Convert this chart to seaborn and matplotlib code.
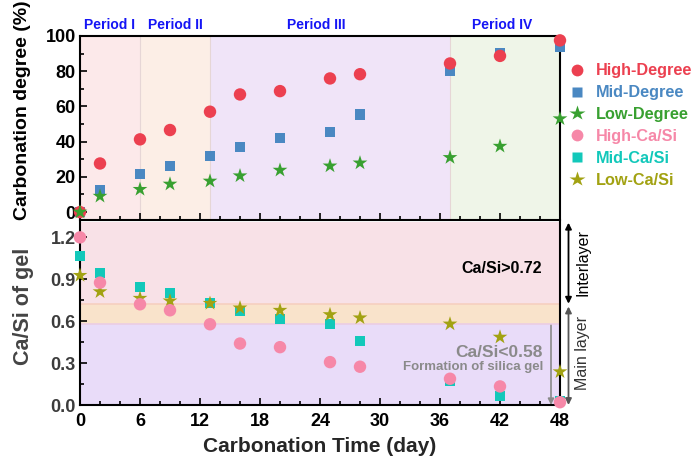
import numpy as np
import pandas as pd
import matplotlib
matplotlib.use("Agg")
import matplotlib.pyplot as plt
from matplotlib.lines import Line2D
from matplotlib.ticker import MultipleLocator
import seaborn as sns

sns.set_theme(style="ticks")
plt.rcParams["font.family"] = ["Liberation Sans", "DejaVu Sans"]
plt.rcParams["font.weight"] = "bold"

# ---- data ----
days = [0, 2, 6, 9, 13, 16, 20, 25, 28, 37, 42, 48]

high_degree = [0, 27.6, 41.3, 46.6, 57.0, 66.8, 68.7, 75.9, 78.3, 84.4, 88.7, 97.5]
mid_degree = [0, 12.5, 21.7, 26.2, 31.9, 37.0, 42.1, 45.3, 55.5, 80.0, 90.2, 93.6]
low_degree = [0, 9.0, 12.9, 15.9, 17.6, 20.6, 23.8, 26.2, 27.9, 31.0, 37.4, 53.0]

high_casi = [1.20, 0.876, 0.721, 0.678, 0.578, 0.440, 0.414, 0.307, 0.274, 0.188, 0.133, 0.02]
mid_casi = [1.066, 0.943, 0.845, 0.804, 0.728, 0.671, 0.616, 0.580, 0.457, 0.171, 0.066, 0.03]
low_casi = [0.928, 0.811, 0.764, 0.745, 0.728, 0.695, 0.678, 0.647, 0.624, 0.580, 0.486, 0.238]

period_names = ["Period I", "Period II", "Period III", "Period IV"]
period_edges = [0, 6, 13, 37, 48]
period_label_x = [2.9, 9.5, 23.6, 42.2]

series_labels = ["High-Degree", "Mid-Degree", "Low-Degree",
                 "High-Ca/Si", "Mid-Ca/Si", "Low-Ca/Si"]

# ---- styling ----
c_high_deg = "#EC4050"
c_mid_deg = "#4A88C2"
c_low_deg = "#38A030"
c_high_cs = "#F688A8"
c_mid_cs = "#12C8BA"
c_low_cs = "#A2A212"

period_colors = ["#FCE9EA", "#FCEEE6", "#F0E4F8", "#EFF5E8"]

fig = plt.figure(figsize=(6.94, 4.59), dpi=100)
left, right = 80 / 694, 560 / 694
ax_top = fig.add_axes([left, 1 - 220 / 459, right - left, (220 - 36) / 459])
ax_bot = fig.add_axes([left, 1 - 405 / 459, right - left, (405 - 222) / 459])

df_top = pd.DataFrame({"day": days, "high": high_degree, "mid": mid_degree, "low": low_degree})
df_bot = pd.DataFrame({"day": days, "high": high_casi, "mid": mid_casi, "low": low_casi})

# ---- top panel: carbonation degree ----
for (x0, x1), col in zip(zip(period_edges[:-1], period_edges[1:]), period_colors):
    ax_top.axvspan(x0, x1, color=col, lw=0, zorder=0)
for xb in period_edges[1:-1]:
    ax_top.axvline(xb, color="#E6D6D6", lw=0.8, zorder=0.5)

sq_size, ci_size, st_size = 55, 80, 125
sns.scatterplot(data=df_top, x="day", y="mid", marker="s", s=sq_size, color=c_mid_deg,
                edgecolor="none", ax=ax_top, clip_on=False, zorder=3, legend=False)
sns.scatterplot(data=df_top, x="day", y="high", marker="o", s=ci_size, color=c_high_deg,
                edgecolor="none", ax=ax_top, clip_on=False, zorder=3, legend=False)
sns.scatterplot(data=df_top, x="day", y="low", marker="*", s=st_size, color=c_low_deg,
                edgecolor="none", ax=ax_top, clip_on=False, zorder=4, legend=False)

ax_top.set_xlim(0, 48)
ax_top.set_ylim(-4.5, 100)
ax_top.set_xlabel("")
ax_top.set_ylabel("")
ax_top.yaxis.set_major_locator(MultipleLocator(20))
ax_top.yaxis.set_minor_locator(MultipleLocator(10))
ax_top.xaxis.set_major_locator(MultipleLocator(6))
ax_top.xaxis.set_minor_locator(MultipleLocator(2))
ax_top.tick_params(axis="both", which="both", direction="in", top=False, right=False,
                   colors="black", width=1.2)
ax_top.tick_params(axis="both", which="major", length=5)
ax_top.tick_params(axis="both", which="minor", length=3)
ax_top.tick_params(axis="x", labelbottom=False)
ax_top.tick_params(axis="y", labelsize=13, pad=3)
for t in ax_top.get_yticklabels():
    t.set_fontweight("bold")
for sp in ax_top.spines.values():
    sp.set_color("black")
    sp.set_linewidth(1.5)

for name, xc in zip(period_names, period_label_x):
    ax_top.text(xc, 1.06, name, transform=ax_top.get_xaxis_transform(),
                ha="center", va="center", color="#1515F5", fontsize=10, fontweight="bold")

# ---- bottom panel: Ca/Si of gel ----
ax_bot.axhspan(0.72, 1.31, color="#F8E1E7", lw=0, zorder=0)
ax_bot.axhspan(0.58, 0.72, color="#F9E3CB", lw=0, zorder=0)
ax_bot.axhspan(0.0, 0.58, color="#E9DCF9", lw=0, zorder=0)
ax_bot.axhline(0.72, color="#F6CFC0", lw=1.2, zorder=0.5)
ax_bot.axhline(0.58, color="#EBCDE4", lw=1.2, zorder=0.5)

sns.scatterplot(data=df_bot, x="day", y="mid", marker="s", s=sq_size, color=c_mid_cs,
                edgecolor="none", ax=ax_bot, clip_on=False, zorder=3, legend=False)
sns.scatterplot(data=df_bot, x="day", y="low", marker="*", s=st_size, color=c_low_cs,
                edgecolor="none", ax=ax_bot, clip_on=False, zorder=3, legend=False)
sns.scatterplot(data=df_bot, x="day", y="high", marker="o", s=ci_size, color=c_high_cs,
                edgecolor="none", ax=ax_bot, clip_on=False, zorder=4, legend=False)

ax_bot.set_xlim(0, 48)
ax_bot.set_ylim(0, 1.31)
ax_bot.set_ylabel("")
ax_bot.set_xlabel("Carbonation Time (day)", fontsize=15, fontweight="bold", labelpad=5)
ax_bot.xaxis.set_major_locator(MultipleLocator(6))
ax_bot.xaxis.set_minor_locator(MultipleLocator(2))
ax_bot.yaxis.set_major_locator(MultipleLocator(0.3))
ax_bot.yaxis.set_minor_locator(MultipleLocator(0.15))
ax_bot.tick_params(axis="both", which="both", direction="in", top=False, right=False,
                   colors="black", width=1.2)
ax_bot.tick_params(axis="both", which="major", length=5)
ax_bot.tick_params(axis="both", which="minor", length=3)
ax_bot.tick_params(axis="x", labelsize=13, pad=6)
ax_bot.tick_params(axis="y", labelsize=13, pad=3, labelcolor="#3C3C3C")
ax_bot.set_yticks([0, 0.3, 0.6, 0.9, 1.2])
ax_bot.set_yticklabels(["0.0", "0.3", "0.6", "0.9", "1.2"])
for t in ax_bot.get_xticklabels() + ax_bot.get_yticklabels():
    t.set_fontweight("bold")
for sp in ax_bot.spines.values():
    sp.set_color("black")
    sp.set_linewidth(1.5)
ax_bot.spines["top"].set_visible(False)

# annotations inside the bottom panel
ax_bot.text(42.2, 0.98, "Ca/Si>0.72", ha="center", va="center", fontsize=11.5,
            fontweight="bold", color="black")
ax_bot.text(46.3, 0.375, "Ca/Si<0.58", ha="right", va="center", fontsize=12.5,
            fontweight="bold", color="#8A8A8A")
ax_bot.text(46.3, 0.27, "Formation of silica gel", ha="right", va="center", fontsize=9.5,
            fontweight="bold", color="#8A8A8A")
ax_bot.annotate("", xy=(47.1, 0.0), xytext=(47.1, 0.57),
                arrowprops=dict(arrowstyle="-|>", color="#8A8A8A", lw=1.2,
                                mutation_scale=9, shrinkA=0, shrinkB=0),
                annotation_clip=False, zorder=5)

# layer arrows to the right of the panel
ax_bot.annotate("", xy=(48.85, 1.305), xytext=(48.85, 0.725),
                arrowprops=dict(arrowstyle="<|-|>", color="black", lw=1.3,
                                mutation_scale=9, shrinkA=0, shrinkB=0),
                annotation_clip=False)
ax_bot.annotate("", xy=(48.85, 0.705), xytext=(48.85, 0.0),
                arrowprops=dict(arrowstyle="<|-|>", color="#555555", lw=1.3,
                                mutation_scale=9, shrinkA=0, shrinkB=0),
                annotation_clip=False)
ax_bot.text(50.3, 1.02, "Interlayer", rotation=90, ha="center", va="center",
            fontsize=11.5, fontweight="normal", color="black", clip_on=False)
ax_bot.text(50.3, 0.37, "Main layer", rotation=90, ha="center", va="center",
            fontsize=11.5, fontweight="normal", color="#333333", clip_on=False)

# y-axis titles
fig.text(23 / 694, 1 - 110 / 459, "Carbonation degree (%)", rotation=90, ha="center",
         va="center", fontsize=14, fontweight="bold", color="black")
fig.text(23 / 694, 1 - 306 / 459, "Ca/Si of gel", rotation=90, ha="center",
         va="center", fontsize=15.5, fontweight="bold", color="#444444")

# legend
legend_colors = [c_high_deg, c_mid_deg, c_low_deg, c_high_cs, c_mid_cs, c_low_cs]
legend_markers = ["o", "s", "*", "o", "s", "*"]
legend_sizes = [8.5, 7, 11.5, 8.5, 7, 11.5]
handles = [Line2D([], [], marker=m, color=c, linestyle="none", markersize=ms,
                  markeredgecolor="none")
           for m, c, ms in zip(legend_markers, legend_colors, legend_sizes)]
leg = fig.legend(handles, series_labels, loc="upper left",
                 bbox_to_anchor=(561 / 694, 1 - 57 / 459), frameon=False,
                 handletextpad=0.55, labelspacing=0.42, handlelength=1.2,
                 borderaxespad=0, prop={"size": 11.7, "weight": "bold"})
for txt, c in zip(leg.get_texts(), legend_colors):
    txt.set_color(c)

fig.savefig("out.png", dpi=100)
